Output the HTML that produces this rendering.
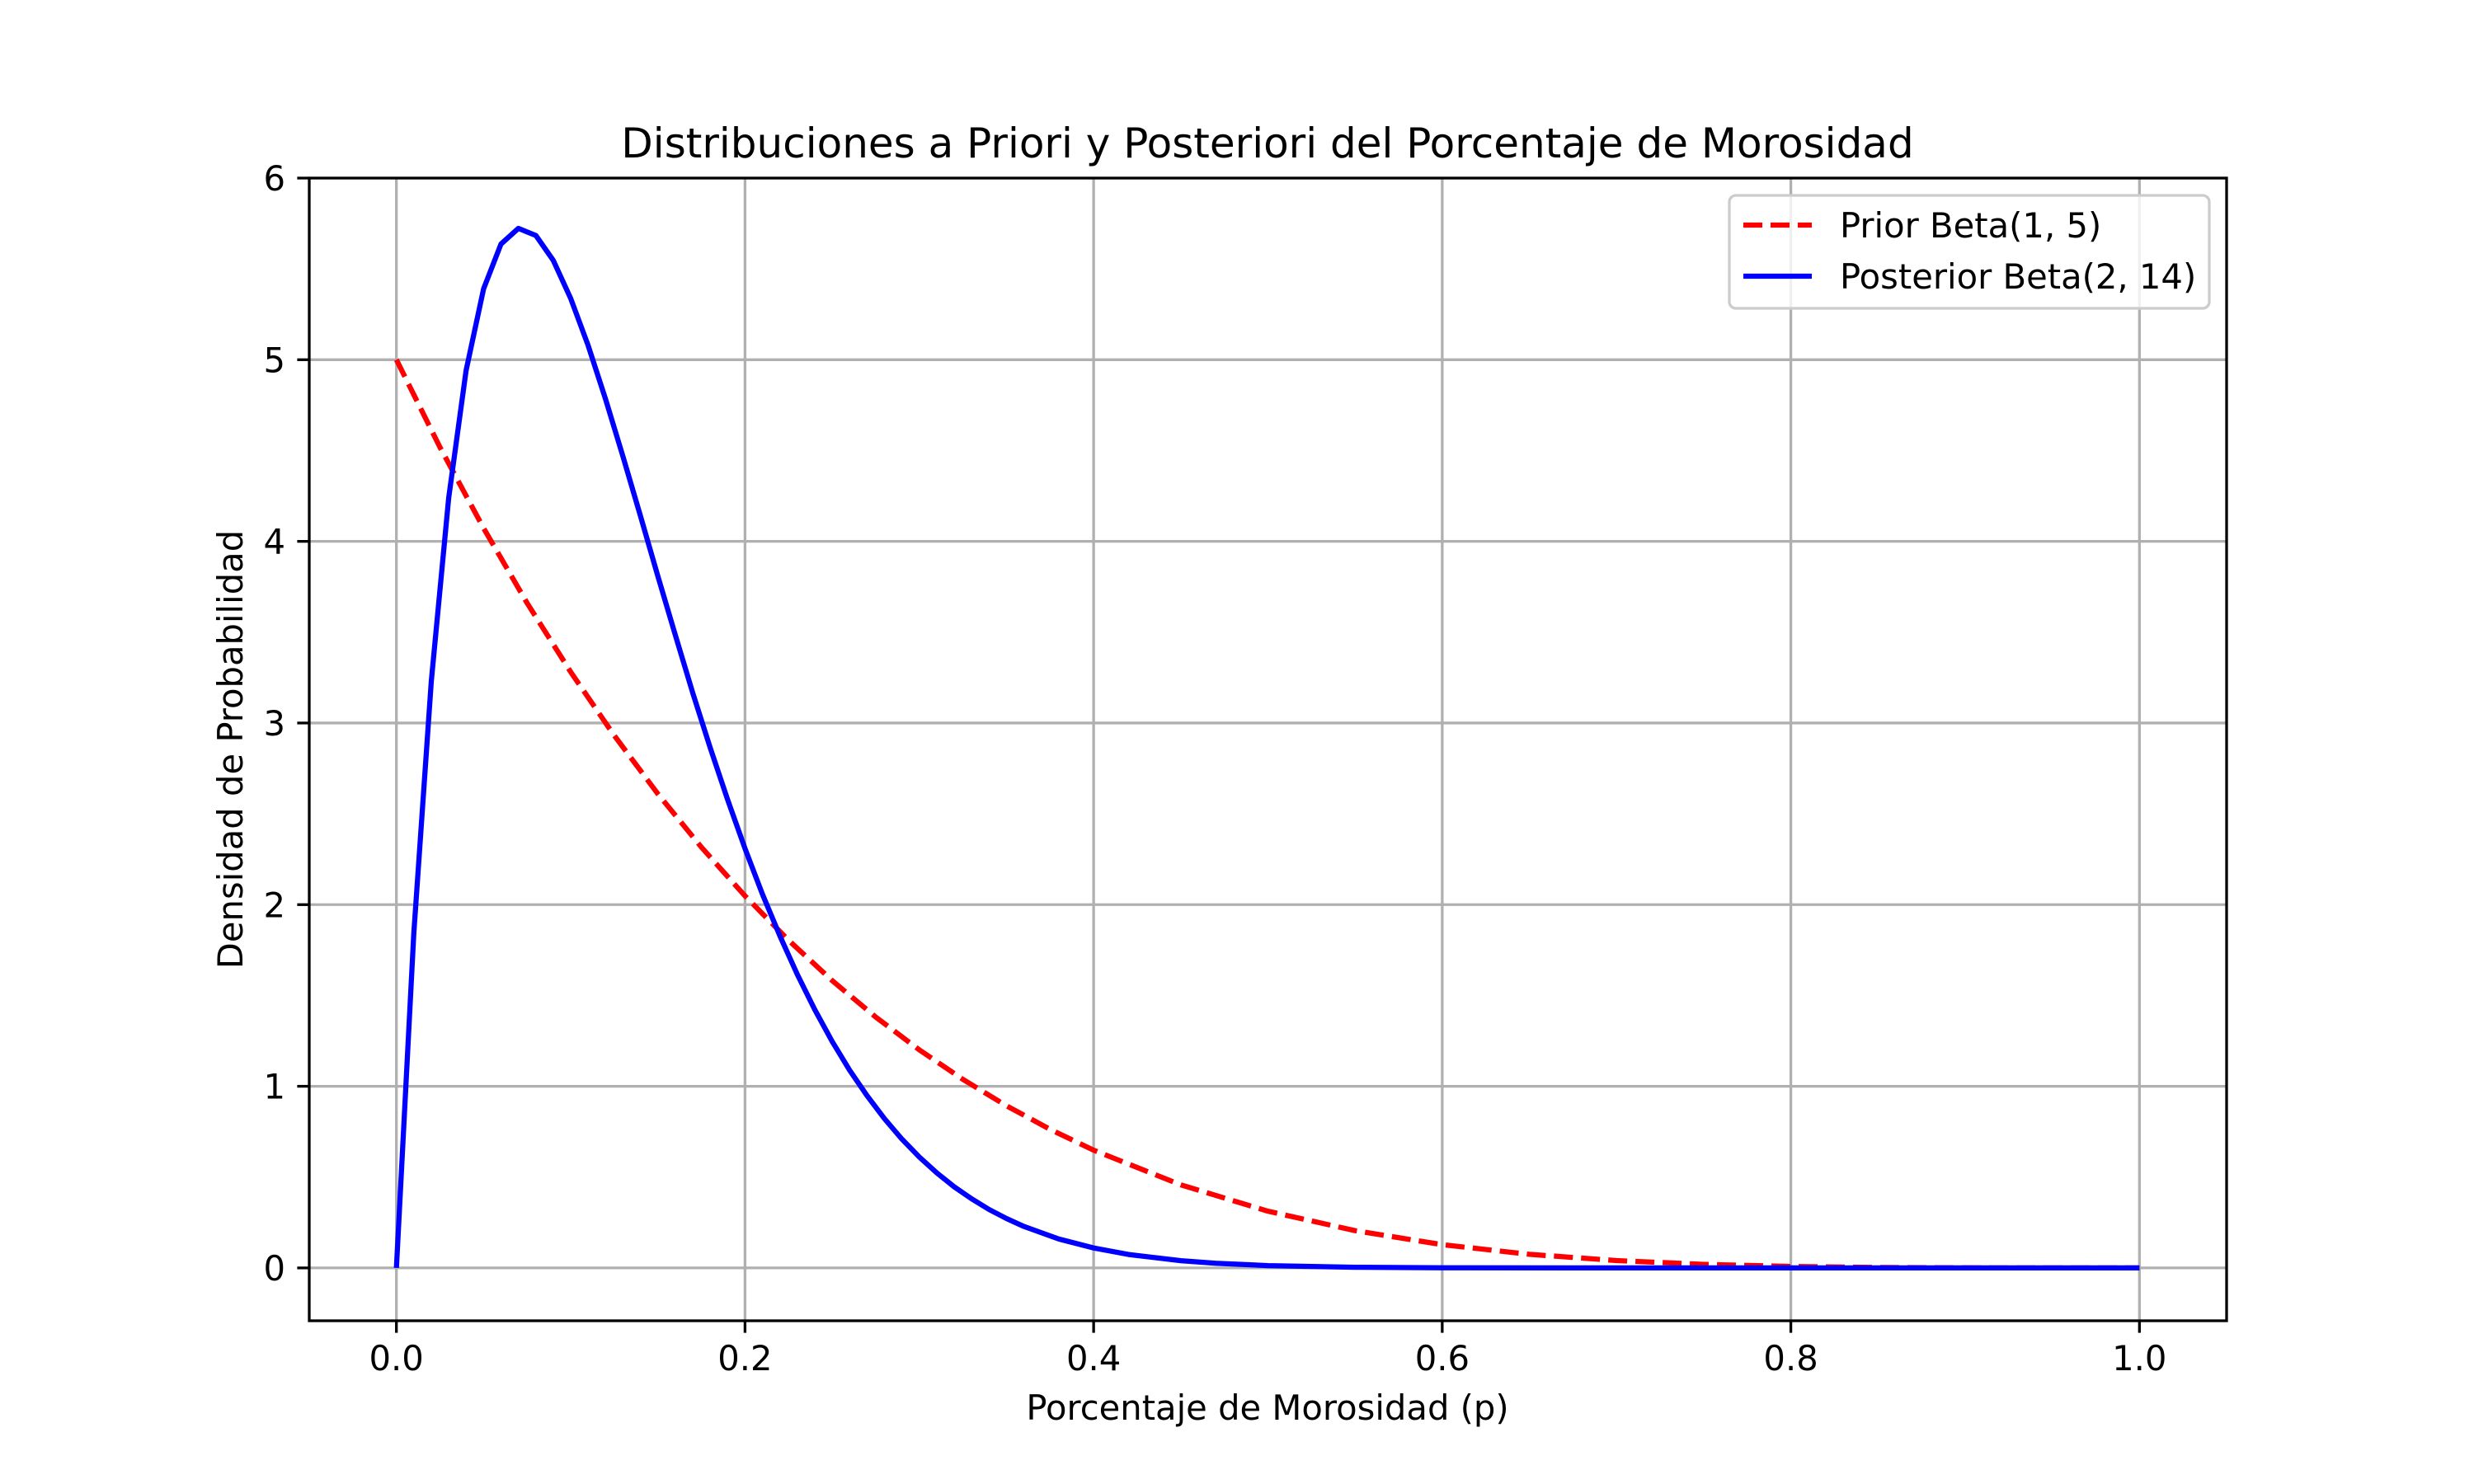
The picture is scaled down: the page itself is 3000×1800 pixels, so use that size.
<!DOCTYPE html>
<html><head><meta charset="utf-8"><style>
html,body{margin:0;padding:0;background:#fff}
svg{display:block;font-family:"DejaVu Sans","Liberation Sans",sans-serif}
</style></head><body>
<svg id="chart" width="3000" height="1800" viewBox="0 0 3000 1800" xmlns="http://www.w3.org/2000/svg">
<rect width="3000" height="1800" fill="#fff"/>
<g id="grid"></g>
<g id="series"></g>
<rect x="375" y="216" width="2325" height="1386" fill="none" stroke="#000" stroke-width="3.3"/>
<g id="ticks"></g>
<text x="1537" y="191" font-size="50" text-anchor="middle">Distribuciones a Priori y Posteriori del Porcentaje de Morosidad</text>
<text x="1537" y="1722" font-size="41.7" text-anchor="middle">Porcentaje de Morosidad (p)</text>
<text transform="translate(294,909) rotate(-90)" font-size="41.7" text-anchor="middle">Densidad de Probabilidad</text>
<g>
<rect x="2097" y="237" width="582" height="137" rx="8" fill="#fff" fill-opacity="0.8" stroke="#ccc" stroke-width="3.3"/>
<line x1="2114" y1="273" x2="2197" y2="273" stroke="#f00" stroke-width="6.25" stroke-dasharray="23,10"/>
<text x="2231" y="288" font-size="41.7">Prior Beta(1, 5)</text>
<line x1="2114" y1="335" x2="2197" y2="335" stroke="#00f" stroke-width="6.25"/>
<text x="2231" y="350" font-size="41.7">Posterior Beta(2, 14)</text>
</g>
</svg>
<script>
const xTicks=[0,0.2,0.4,0.6,0.8,1.0];
const xTickLabels=["0.0","0.2","0.4","0.6","0.8","1.0"];
const yTicks=[0,1,2,3,4,5,6];
const yTickLabels=["0","1","2","3","4","5","6"];
const priorX=[0,0.025,0.05,0.075,0.1,0.125,0.15,0.175,0.2,0.225,0.25,0.275,0.3,0.325,0.35,0.375,0.4,0.45,0.5,0.55,0.6,0.65,0.7,0.75,0.8,0.85,0.9,0.95,1.0];
const priorY=[5,4.518,4.073,3.660,3.281,2.931,2.610,2.316,2.048,1.804,1.582,1.381,1.2005,1.038,0.8925,0.763,0.648,0.4575,0.3125,0.205,0.128,0.075,0.0405,0.0195,0.008,0.0025,0.0005,0,0];
const postX=[0,0.01,0.02,0.03,0.04,0.05,0.06,0.07,0.08,0.09,0.10,0.11,0.12,0.13,0.14,0.15,0.16,0.17,0.18,0.19,0.20,0.21,0.22,0.23,0.24,0.25,0.26,0.27,0.28,0.29,0.30,0.31,0.32,0.33,0.34,0.35,0.36,0.38,0.40,0.42,0.45,0.47,0.5,0.55,0.6,0.7,1.0];
const postY=[0,1.843,3.230,4.240,4.941,5.390,5.637,5.723,5.684,5.547,5.338,5.078,4.783,4.466,4.140,3.809,3.484,3.166,2.865,2.578,2.309,2.058,1.828,1.616,1.422,1.247,1.089,0.948,0.8214,0.7095,0.6104,0.5232,0.4467,0.3802,0.3220,0.2717,0.2285,0.1595,0.1097,0.0742,0.0399,0.0257,0.0128,0.0036,0.00085,0,0];
const NS='http://www.w3.org/2000/svg';
const X0=375,X1=2700,Y0=1602,Y1=216;
const xmin=-0.05,xmax=1.05,ymin=-0.2909,ymax=6.0;
function sx(v){return X0+(v-xmin)/(xmax-xmin)*(X1-X0);}
function sy(v){return Y0-(v-ymin)/(ymax-ymin)*(Y0-Y1);}
function mk(tag,attrs,parent){const e=document.createElementNS(NS,tag);for(const k in attrs)e.setAttribute(k,attrs[k]);parent.appendChild(e);return e;}
const grid=document.getElementById('grid'),ticks=document.getElementById('ticks'),series=document.getElementById('series');
xTicks.forEach((t,i)=>{
  const g=mk('line',{x1:sx(t),x2:sx(t),y1:Y1,y2:Y0,stroke:'#b0b0b0','stroke-width':3.3},grid);
  
  
  const tk=mk('line',{x1:sx(t),x2:sx(t),y1:Y0,y2:Y0+14.6,stroke:'#000','stroke-width':3.3},ticks);
  
  
  const tx=mk('text',{x:sx(t),y:Y0+60,'font-size':41.7,'text-anchor':'middle'},ticks);
  tx.textContent=xTickLabels[i];
  
  
});
yTicks.forEach((t,i)=>{
  const g=mk('line',{x1:X0,x2:X1,y1:sy(t),y2:sy(t),stroke:'#b0b0b0','stroke-width':3.3},grid);
  
  
  const tk=mk('line',{x1:X0-14.6,x2:X0,y1:sy(t),y2:sy(t),stroke:'#000','stroke-width':3.3},ticks);
  
  
  const tx=mk('text',{x:X0-29,y:sy(t)+15,'font-size':41.7,'text-anchor':'end'},ticks);
  tx.textContent=yTickLabels[i];
  
  
});
function pts(xs,ys){return xs.map((x,i)=>sx(x).toFixed(1)+','+sy(ys[i]).toFixed(1)).join(' ');}
const pr=mk('polyline',{points:pts(priorX,priorY),fill:'none',stroke:'#f00','stroke-width':6.25,'stroke-dasharray':'23,10','stroke-linejoin':'round'},series);


const po=mk('polyline',{points:pts(postX,postY),fill:'none',stroke:'#00f','stroke-width':6.25,'stroke-linejoin':'round'},series);


</script>
</body></html>
